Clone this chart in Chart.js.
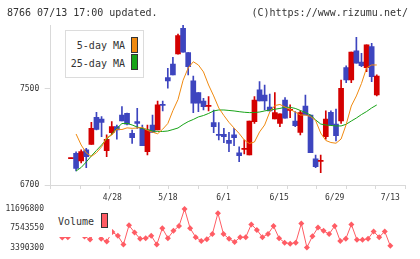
<!DOCTYPE html>
<html>
<head>
<meta charset="utf-8">
<script src="https://cdn.jsdelivr.net/npm/chart.js@4.4.1/dist/chart.umd.min.js"></script>
<style>
  body { margin: 0; background: #fff; }
  #wrap { position: relative; width: 420px; height: 259px; overflow: hidden; font-family: "DejaVu Sans Mono", monospace; color: #333; }
  canvas { position: absolute; left: 0; top: 0; }
  .txt { position: absolute; font-size: 10px; line-height: 12px; white-space: pre; }
  .sw { position: absolute; box-sizing: border-box; border: 1px solid #333; }
</style>
</head>
<body>
<div id="wrap">
  <canvas id="priceChart" width="420" height="259"></canvas>
  <canvas id="volChart" width="420" height="259"></canvas>

  <div class="txt" style="left:7px; top:7px;">8766 07/13 17:00 updated.</div>
  <div class="txt" style="right:12px; top:7px;">(C)https://www.rizumu.net/</div>

  <div style="position:absolute; left:65px; top:30px; width:79px; height:48px; box-sizing:border-box; border:1px solid #dcdcdc; background:#fff;"></div>
  <div class="txt" style="right:295px; top:40px;">5-day MA</div>
  <div class="txt" style="right:295px; top:58px;">25-day MA</div>
  <div class="sw" style="left:131px; top:37px; width:7px; height:16px; background:#f08a10;"></div>
  <div class="sw" style="left:131px; top:54px; width:7px; height:16px; background:#17a317;"></div>

  <div style="position:absolute; left:53px; top:211px; width:59px; height:26px; background:#fff;"></div>
  <div class="txt" style="left:58px; top:216px;">Volume</div>
  <div class="sw" style="left:101px; top:213px; width:7px; height:15px; background:#ff5c64;"></div>
</div>
<script>
// trading days shown (2022/4/14 - 7/13)
const dates = ['4/14','4/15','4/18','4/19','4/20','4/21','4/22','4/25','4/26','4/27','4/28',
  '5/2','5/6','5/9','5/10','5/11','5/12','5/13','5/16','5/17','5/18',
  '5/19','5/20','5/23','5/24','5/25','5/26','5/27','5/30','5/31','6/1',
  '6/2','6/3','6/6','6/7','6/8','6/9','6/10','6/13','6/14','6/15',
  '6/16','6/17','6/20','6/21','6/22','6/23','6/24','6/27','6/28','6/29',
  '6/30','7/1','7/4','7/5','7/6','7/7','7/8','7/11','7/12','7/13'];

const open  = [6920,6964,6900,6992,7039,7264,7250,6986,7136,7186,7283,7297,7131,7228,7172,6978,7200,7158,7370,7594,7708,
  7792,8006,7803,7567,7469,7400,7355,7219,7120,7122,7072,7117,6969,6997,6950,7228,7492,7450,7350,7250,
  7214,7408,7322,7233,7139,7358,7283,6917,6897,7103,7306,7208,7233,7678,7575,7817,7725,7678,7853,7450];
const high  = [6925,6977,6992,7006,7222,7306,7269,7117,7228,7200,7353,7300,7158,7339,7200,7200,7283,7400,7400,7672,7764,
  7958,8033,7803,7608,7469,7422,7436,7325,7219,7172,7139,7172,7019,7075,7233,7436,7561,7533,7458,7469,
  7292,7428,7367,7311,7317,7450,7283,6950,6950,7317,7317,7333,7575,7692,7808,7931,7797,7867,7881,7617];
const low   = [6920,6817,6883,6844,7039,7158,7103,6936,7122,7081,7233,7200,7047,7172,7028,6950,7139,7158,7317,7506,7617,
  7789,7806,7617,7303,7311,7325,7317,7136,7075,7053,6978,7028,6894,6958,6950,7214,7400,7325,7317,7250,
  7186,7256,7261,7186,7117,7283,6969,6844,6803,7081,7200,7067,7214,7553,7553,7714,7686,7644,7561,7442];
const close = [6925,6839,6978,6936,7172,7164,7222,7081,7186,7158,7233,7206,7094,7214,7028,7158,7139,7367,7364,7567,7617,
  7944,7806,7686,7381,7381,7353,7361,7186,7114,7103,7047,7094,6944,7003,7233,7408,7400,7400,7317,7303,
  7292,7256,7328,7194,7303,7283,6969,6853,6903,7250,7200,7111,7506,7575,7808,7714,7694,7867,7603,7608];

const ma5  = [null,7125,7033,6967,6938,6969,7018,7094,7115,7165,7162,7176,7172,7175,7181,7155,7140,7127,7165,7212,7320,
  7412,7573,7675,7727,7700,7642,7533,7442,7342,7279,7222,7175,7129,7075,7046,7058,7142,7200,7308,7362,
  7371,7350,7329,7308,7283,7283,7271,7237,7133,7071,7054,7048,7083,7204,7358,7442,7546,7675,7700,7700];
const ma25 = [null,6817,6846,6892,6942,6988,7033,7083,7125,7172,7212,7214,7200,7183,7171,7162,7150,7146,7146,7150,7162,
  7175,7204,7228,7246,7267,7279,7296,7317,7325,7325,7321,7317,7311,7306,7303,7304,7308,7317,7325,7331,
  7338,7347,7347,7338,7321,7304,7283,7242,7208,7200,7196,7192,7192,7206,7233,7258,7287,7312,7342,7367];

const volume = [null,5570000,5612000,6920000,7751000,5778000,5114000,6920000,5259000,4699000,6713000,
  5945000,4013000,8167000,6651000,5259000,5405000,5945000,4013000,7544000,5405000,
  6983000,8021000,11696800,7544000,5612000,4782000,5155000,6298000,10804000,6298000,
  5259000,4574000,5612000,5612000,8374000,7191000,5612000,6298000,8021000,5405000,
  4429000,4221000,4429000,8582000,3390300,5820000,7689000,6983000,6298000,8021000,
  4782000,5259000,8374000,5052000,5052000,5259000,6858000,5612000,6858000,3743000];

const priceTicks = [6700, 7500];
const volTicks = [3390300, 7543550, 11696800];
const dateTickIdx = [10, 20, 30, 40, 50, 60];

const RED = '#d40000', BLUE = '#3d45bf', ORANGE = '#f08a10', GREEN = '#17a317', VOL = '#ff5c64';
const AXIS = '#d9d9d9', TEXT = '#333';
const XMIN = -1.08, XMAX = 62.7;

Chart.defaults.font.family = "'DejaVu Sans Mono', monospace";

const candleColors = close.map((c, i) => c >= open[i] ? RED : BLUE);

new Chart(document.getElementById('priceChart'), {
  type: 'bar',
  data: {
    datasets: [
      { type: 'line', label: '5-day MA', data: ma5.map((v, i) => ({ x: i, y: v })),
        borderColor: ORANGE, borderWidth: 1, pointRadius: 0, order: 0 },
      { type: 'line', label: '25-day MA', data: ma25.map((v, i) => ({ x: i, y: v })),
        borderColor: GREEN, borderWidth: 1, pointRadius: 0, order: 0 },
      { label: 'body', data: open.map((o, i) => ({ x: i, y: [o, close[i]] })),
        backgroundColor: candleColors, barThickness: 5, minBarLength: 1, grouped: false, order: 1 },
      { label: 'wick', data: low.map((l, i) => ({ x: i, y: [l, high[i]] })),
        backgroundColor: candleColors, barThickness: 1, grouped: false, order: 2 }
    ]
  },
  options: {
    responsive: false,
    animation: false,
    layout: { padding: { left: 0, right: 14.7, top: 25, bottom: 66 } },
    plugins: { legend: { display: false }, tooltip: { enabled: false } },
    scales: {
      x: {
        type: 'linear', min: XMIN, max: XMAX,
        afterBuildTicks: s => { s.ticks = Array.from({ length: 12 }, (_, k) => ({ value: XMIN + (XMAX - XMIN) * k / 11 })); },
        afterFit: s => { s.height = 8; },
        ticks: { display: false },
        grid: { drawOnChartArea: false, tickLength: 4, color: AXIS },
        border: { color: AXIS }
      },
      y: {
        min: 6700, max: 8033,
        afterBuildTicks: s => { s.ticks = priceTicks.map(v => ({ value: v })); },
        afterFit: s => { s.width = 50.7; },
        ticks: { color: TEXT, font: { size: 8 }, padding: 5.5, callback: v => String(v) },
        grid: { drawOnChartArea: false, tickLength: 6, color: AXIS },
        border: { color: AXIS }
      }
    }
  }
});

new Chart(document.getElementById('volChart'), {
  type: 'line',
  data: {
    datasets: [{
      label: 'Volume', data: volume.map((v, i) => ({ x: i, y: v })),
      borderColor: VOL, backgroundColor: VOL, borderWidth: 1,
      pointStyle: 'rectRot', pointRadius: 3, pointBorderWidth: 0, clip: false
    }]
  },
  options: {
    responsive: false,
    animation: false,
    layout: { padding: { left: 0, right: 14.7, top: 189, bottom: 10 } },
    plugins: { legend: { display: false }, tooltip: { enabled: false } },
    scales: {
      x: {
        type: 'linear', position: 'top', min: XMIN, max: XMAX,
        afterBuildTicks: s => { s.ticks = dateTickIdx.map(v => ({ value: v })); },
        afterFit: s => { s.height = 20; },
        ticks: { color: TEXT, font: { size: 8 }, padding: 6.2, maxRotation: 0, autoSkip: false, callback: v => dates[v] },
        grid: { display: false, drawTicks: false },
        border: { display: false }
      },
      y: {
        min: 3390300, max: 11696800,
        afterBuildTicks: s => { s.ticks = volTicks.map(v => ({ value: v })); },
        afterFit: s => { s.width = 50.7; },
        ticks: { color: TEXT, font: { size: 8 }, padding: 6.7, callback: v => String(v) },
        grid: { display: false, drawTicks: false },
        border: { display: false }
      }
    }
  }
});
</script>
</body>
</html>
